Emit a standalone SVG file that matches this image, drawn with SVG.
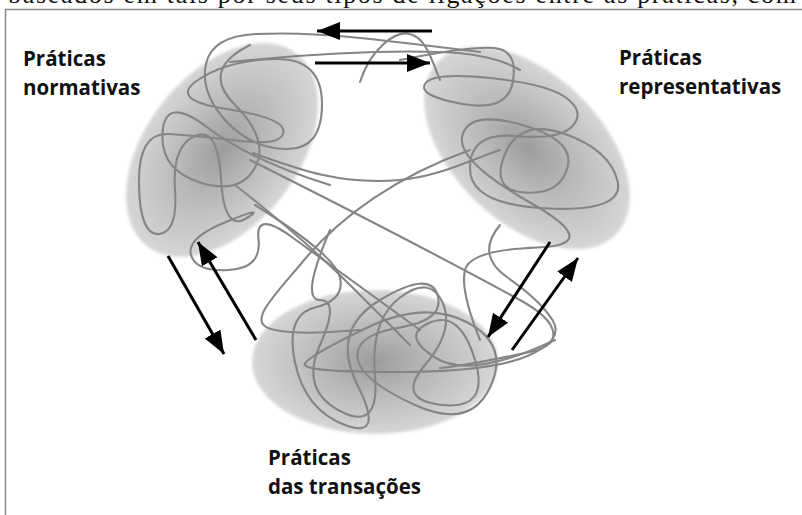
<svg xmlns="http://www.w3.org/2000/svg" width="802" height="515" viewBox="0 0 802 515">
  <style>
    .label { font-family: "Open Sans", "Liberation Sans", sans-serif; font-weight: 700; font-size: 20.5px; fill: #111; }
    .caption { font-family: "Liberation Serif", serif; font-size: 26px; fill: #111; }
    .frame { stroke: #8a8a8a; stroke-width: 1.5; fill: none; }
    .scribble { fill: none; stroke: #858585; stroke-width: 2.1; stroke-linecap: round; stroke-linejoin: round; }
    .arrow { stroke: #000; stroke-width: 3; fill: none; marker-end: url(#head); }
    .cloud { fill: url(#cloudFill); filter: url(#soft); }
  </style>
  <defs>
    <radialGradient id="cloudFill" cx="0.5" cy="0.5" r="0.5">
      <stop offset="0" stop-color="#9c9c9c"/>
      <stop offset="0.45" stop-color="#b9b9b9"/>
      <stop offset="0.85" stop-color="#cecece"/>
      <stop offset="1" stop-color="#d6d6d6"/>
    </radialGradient>
    <filter id="soft" x="-20%" y="-20%" width="140%" height="140%">
      <feGaussianBlur stdDeviation="1.5"/>
    </filter>
    <marker id="head" markerUnits="userSpaceOnUse" markerWidth="26" markerHeight="20" refX="23" refY="9" orient="auto">
      <path d="M0,0 L23,9 L0,18 Z" fill="#000"/>
    </marker>
  </defs>

  <!-- page frame and the line of body text cut at the top -->
  <g id="page">
    <text class="caption" x="8" y="2.5" textLength="788" lengthAdjust="spacing">baseados em tais por seus tipos de ligações entre as práticas, com</text>
    <line class="frame" x1="5" y1="9.5" x2="802" y2="9.5"/>
    <line class="frame" x1="5.5" y1="9" x2="5.5" y2="515"/>
  </g>

  <!-- shaded practice areas -->
  <g id="normativas">
    <ellipse class="cloud" cx="222" cy="150" rx="122" ry="76" transform="rotate(-52 222 150)"/>
    <text class="label" x="23" y="66">Práticas</text>
    <text class="label" x="23" y="95">normativas</text>
  </g>
  <g id="representativas">
    <ellipse class="cloud" cx="527" cy="148" rx="124" ry="74" transform="rotate(44 527 148)"/>
    <text class="label" x="619" y="65">Práticas</text>
    <text class="label" x="619" y="94">representativas</text>
  </g>
  <g id="transacoes">
    <ellipse class="cloud" cx="375" cy="362" rx="123" ry="72"/>
    <text class="label" x="268" y="465">Práticas</text>
    <text class="label" x="268" y="494">das transações</text>
  </g>

  <!-- tangled lines linking the practices -->
  <g id="tangle">
    <path class="scribble" d="M480,52 Q400,42 350,37 T256,34 T206,64 T225,120 T286,149 T322,104 T275,59 T198,80 T226.5,109 T283.5,132 T241,141 T169,134 T139,184 T159,234 T175,189 T195,136 T221,179 T246,218.5 T227,221.5 T191,255 T229,270 T258.5,239 T292.5,237.5 T420,330"/>
    <path class="scribble" d="M330,185 Q250,160 207.5,127.5 T162.5,132.5 T200,182.5 T255,167.5 T235,105 T250,45"/>
    <path class="scribble" d="M400,60 Q470,46 494,48 T513,81 T463,104 T425,84 T490,78 T566.5,98 T572.5,126 T515,136 T470,168.5 T547.5,208.5 T617.5,181 T565,134 T505,154 T525,192.5 T567.5,167.5 T522.5,125 T462.5,135 T530,202.5 T537.5,247.5 T465,270 T480,340"/>
    <path class="scribble" d="M255,205 Q335,255 340,277.5 T315,307.5 T295,362.5 T345,425 T357.5,385 T380,300 T437.5,295 T400,327.5 T357.5,357.5 T415,405 T490,387.5 T467.5,322.5 T367.5,327.5 T305,363.5 T395,372 T527.5,356 T552.5,320 T507.5,277.5 T500,225"/>
    <path class="scribble" d="M330,230 Q300,300 320,300 T320,345 T340,411 T375,376 T400,297.5 T442.5,302.5 T425,365 T442.5,405 T475,360 T430,322.5 T435,357.5 T555,340"/>
    <path class="scribble" d="M470,150 C400,175 340,215 300,265 C270,300 245,325 275,330 C300,335 330,332 360,330"/>
    <path class="scribble" d="M250,160 C330,200 450,262 520,300 C560,322 565,345 530,352 C500,358 470,365 440,368"/>
    <path class="scribble" d="M235,185 C280,220 320,255 350,285 C375,310 395,330 410,345"/>
    <path class="scribble" d="M253,153 C300,170 340,185 400,180 C440,176 470,160 500,150"/>
    <path class="scribble" d="M230,62 C300,55 380,50 440,52 C470,53 500,58 520,70"/>
    <path class="scribble" d="M360,82 C370,50 395,30 410,34 C425,38 430,55 440,80"/>
  </g>

  <!-- arrows between the practices -->
  <g id="arrows">
    <line class="arrow" x1="432" y1="31" x2="317" y2="31"/>
    <line class="arrow" x1="315" y1="63" x2="430" y2="63"/>
    <line class="arrow" x1="168" y1="256" x2="224" y2="354"/>
    <line class="arrow" x1="256" y1="340" x2="198" y2="242"/>
    <line class="arrow" x1="550" y1="242" x2="488" y2="337"/>
    <line class="arrow" x1="512" y1="350" x2="578" y2="258"/>
  </g>
</svg>
